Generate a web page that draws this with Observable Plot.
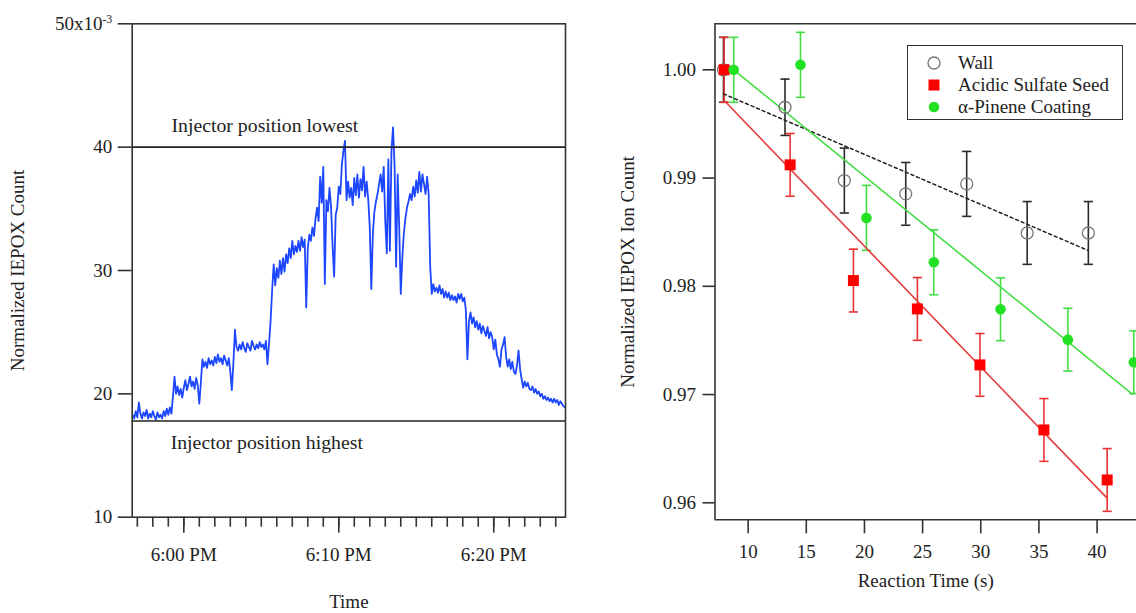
<!DOCTYPE html>
<html>
<head>
<meta charset="utf-8">
<script src="https://cdn.jsdelivr.net/npm/d3@7"></script>
<script src="https://cdn.jsdelivr.net/npm/@observablehq/plot@0.6"></script>
<style>
  html, body { margin: 0; padding: 0; background: #fff; overflow: hidden; }
  #wrap { position: relative; width: 1136px; height: 613px; font-family: "Liberation Serif", "Times New Roman", serif; }
  #left { position: absolute; left: 0; top: 0; }
  #right { position: absolute; left: 600px; top: 0; }
  #legend { position: absolute; left: 907px; top: 45px; width: 214px; height: 73px; border: 1.5px solid #333; background: #fff; }
  .item { position: absolute; left: 0; height: 22px; font-size: 19px; color: #222; line-height: 22px; white-space: nowrap; }
  .item svg { position: absolute; left: 16px; top: 1px; }
  .item span { position: absolute; left: 50px; top: 0; }
</style>
</head>
<body>
<div id="wrap">
  <div id="left"></div>
  <div id="right"></div>
  <div id="legend"></div>
</div>
<script>
// ---------------- Left panel data: IEPOX trace (units of 10^-3) ----------------
// sampled every 0.1 min starting 3.3 min before 6:00 PM
const traceStartMin = -3.3;
const traceStepMin = 0.1;
const traceValues = [
  18.3, 18.0, 18.6,
  18.1, 19.3, 18.4, 18.0, 18.5, 18.2, 18.7, 18.0, 18.4, 18.1,
  18.6, 18.2, 17.9, 18.5, 18.1, 18.3, 18.0, 18.6, 18.2, 18.8,
  18.3, 18.9, 18.4, 19.8, 21.4, 20.0, 20.6, 19.9, 20.4, 19.7,
  20.5, 21.1, 20.3, 20.8, 21.4, 20.6, 21.0, 20.4, 21.3, 20.7,
  19.2, 20.9, 22.8, 22.2, 22.6, 22.1, 22.9, 22.4, 22.7, 22.3,
  23.0, 22.5, 23.2, 22.6, 22.9, 22.4, 23.1, 22.7, 22.3, 22.9,
  21.8, 20.3, 22.5, 25.2, 23.8, 23.5, 24.0, 23.6, 24.2, 23.7,
  23.4, 24.1, 23.8, 23.5, 24.3, 23.9, 23.6, 24.0, 23.7, 24.2,
  23.8, 24.0, 23.6, 24.3, 22.4, 24.1, 25.9, 28.4, 30.5, 28.8,
  30.2, 29.4, 30.8, 29.7, 31.0, 29.9, 31.3, 30.6, 31.8, 31.0,
  32.4, 31.3, 32.0, 31.5, 32.4, 31.6, 32.7, 31.9, 32.5, 27.0,
  31.8, 32.9, 32.4, 33.5, 32.8, 34.2, 35.1, 34.0, 37.6, 35.5,
  38.4, 28.9, 35.7, 34.8, 36.7, 35.2, 32.0, 29.5, 34.5, 35.1,
  36.8, 36.2, 38.6, 39.7, 40.5, 35.7, 37.2, 35.9, 36.7, 35.3,
  37.5, 36.1, 37.8, 35.9, 37.4, 36.5, 38.4, 36.0, 37.2, 35.8,
  33.5, 28.5, 33.0, 34.8, 35.6, 36.2, 37.0, 37.8, 36.4, 38.4,
  34.0, 31.4, 39.0, 31.6, 39.7, 41.6, 38.5, 30.3, 37.8, 33.5,
  28.1, 31.0, 33.0, 34.2, 35.1, 35.6, 36.2, 35.7, 36.8, 36.0,
  37.3, 36.3, 38.0, 36.4, 37.8, 37.0, 36.2, 37.6, 36.2, 30.3,
  28.1, 28.9, 28.3, 28.6, 28.2, 28.8, 28.1, 28.5, 27.8, 28.3,
  27.8, 28.2, 27.6, 28.0, 27.6, 27.9, 27.4, 28.1, 27.7, 28.1,
  27.5, 27.8, 26.8, 22.8, 25.9, 26.6, 25.7, 26.2, 25.4, 25.9,
  25.2, 25.7, 24.9, 25.5, 25.1, 24.7, 25.4, 24.5, 25.0, 24.6,
  23.6, 24.4, 23.2, 22.8, 22.2, 23.6, 24.0, 24.6, 23.0, 22.2,
  22.8, 22.0, 22.6, 21.8, 21.6, 22.3, 23.5, 22.0, 21.2, 20.5,
  21.0, 20.6, 20.9, 20.4, 20.3, 20.6, 20.1, 20.4, 20.0, 20.2,
  19.8, 20.0, 19.6, 19.8, 19.5, 19.7, 19.4, 19.6, 19.3, 19.6,
  19.3, 19.5, 19.1, 19.4, 19.2, 19.0, 18.9
];
const injectorLevels = [40, 17.8];
const injectorLabels = ["Injector position lowest", "Injector position highest"];
const injectorLabelMin = [-0.8, -0.85];
const injectorLabelVal = [41.75, 16.05];
const leftYTicks = [10, 20, 30, 40, 50];
const leftMajorTickMin = [0, 10, 20];           // 6:00 PM, 6:10 PM, 6:20 PM
const leftMinorTickMin = [-3,-2,-1,0,1,2,3,4,5,6,7,8,9,10,11,12,13,14,15,16,17,18,19,20,21,22,23,24];
const leftXDomainMin = [-3.33, 24.63];

// ---------------- Right panel data ----------------
const seriesNames = ["Wall", "Acidic Sulfate Seed", "\u03b1-Pinene Coating"];
const wallTime = [7.88, 13.17, 18.27, 23.55, 28.79, 33.99, 39.25];
const wallVal  = [1.0000, 0.99654, 0.98977, 0.98854, 0.98946, 0.98493, 0.98493];
const wallErr  = [0.0030, 0.0026, 0.0030, 0.0029, 0.0030, 0.0029, 0.0029];
const seedTime = [7.94, 13.61, 19.05, 24.55, 29.93, 35.43, 40.87];
const seedVal  = [1.0000, 0.99122, 0.98053, 0.97791, 0.97274, 0.96673, 0.96211];
const seedErr  = [0.0030, 0.0029, 0.0029, 0.0029, 0.0029, 0.0029, 0.0029];
const pineneTime = [8.76, 14.50, 20.17, 25.96, 31.70, 37.49, 43.16];
const pineneVal  = [1.0000, 1.00046, 0.98632, 0.98222, 0.97788, 0.97507, 0.97298];
const pineneErr  = [0.0030, 0.0030, 0.0030, 0.0030, 0.0029, 0.0029, 0.0029];
const wallFitTime = [7.88, 39.25];   const wallFitVal = [0.99778, 0.98330];
const seedFitTime = [7.94, 40.80];   const seedFitVal = [0.99716, 0.96050];
const pineneFitTime = [8.76, 43.0];  const pineneFitVal = [1.0000, 0.97006];
const rightXTicks = [10, 15, 20, 25, 30, 35, 40];
const rightYTicks = [0.96, 0.97, 0.98, 0.99, 1.00];
const rightXDomain = [7.15, 43.39];
const rightYDomain = [0.95843, 1.00425];

// ---------------- helpers ----------------
const base = new Date(2013, 0, 1, 18, 0, 0).getTime();
const toDate = m => new Date(base + Math.round(m * 60000));
const trace = traceValues.map((v, i) => ({t: toDate(traceStartMin + i * traceStepMin), v}));
const fmtTime = d3.timeFormat("%-I:%M %p");
const font = {fontFamily: "'Liberation Serif', 'Times New Roman', serif", fontSize: "19px", color: "#222", background: "#fff", overflow: "visible"};
const ink = "#333";

const left = Plot.plot({
  width: 600, height: 613,
  marginLeft: 131.7, marginRight: 35, marginTop: 23.3, marginBottom: 96.3,
  style: font,
  x: {type: "time", domain: leftXDomainMin.map(toDate)},
  y: {domain: [10, 50]},
  marks: [
    Plot.line(trace, {x: "t", y: "v", stroke: "#1d46ff", strokeWidth: 1.8, clip: true}),
    Plot.ruleY(injectorLevels, {stroke: "#222", strokeWidth: 1.6}),
    Plot.text(injectorLabels, {x: (d, i) => toDate(injectorLabelMin[i]), y: (d, i) => injectorLabelVal[i], text: d => d, textAnchor: "start", fill: "#222", fontSize: 19.8}),
    Plot.frame({stroke: ink, strokeWidth: 1.6}),
    Plot.axisY({ticks: leftYTicks, tickSize: 14, tickPadding: 6, strokeWidth: 1.6, stroke: ink,
      tickFormat: d => d === 50 ? "50x10^" : String(d),
      label: "Normalized IEPOX Count", labelAnchor: "center", labelArrow: "none", labelOffset: 122}),
    Plot.axisX({ticks: leftMinorTickMin.map(toDate), tickSize: 10, strokeWidth: 1.6, stroke: ink, tickFormat: () => "", label: null}),
    Plot.axisX({ticks: leftMajorTickMin.map(toDate), tickSize: 16, tickPadding: 14, strokeWidth: 1.6, stroke: ink,
      tickFormat: fmtTime, label: "Time", labelAnchor: "center", labelArrow: "none", labelOffset: 91})
  ]
});
// superscript for the 10^-3 multiplier
left.querySelectorAll("text").forEach(t => {
  if (t.textContent === "50x10^") {
    t.textContent = "50x10";
    const ts = document.createElementNS("http://www.w3.org/2000/svg", "tspan");
    ts.setAttribute("dy", "-0.6em");
    ts.setAttribute("font-size", "0.62em");
    ts.textContent = "-3";
    t.appendChild(ts);
  }
});
document.getElementById("left").appendChild(left);

// right panel
function errRows(ts, vs, es) { return ts.map((t, i) => ({t, v: vs[i], lo: vs[i] - es[i], hi: vs[i] + es[i]})); }
const wall = errRows(wallTime, wallVal, wallErr);
const seed = errRows(seedTime, seedVal, seedErr);
const pinene = errRows(pineneTime, pineneVal, pineneErr);
const fit = (ts, vs) => ts.map((t, i) => ({t, v: vs[i]}));
const cap = {draw(ctx, size) { const w = Math.sqrt(size / Math.PI); ctx.moveTo(-w, 0); ctx.lineTo(w, 0); }};
const colWall = "#2a2a2a", colSeed = "#ff0000", colSeedLine = "#e23c3c", colPin = "#22e022", colPinLine = "#44dd44";

function errMarks(rows, color) {
  return [
    Plot.ruleX(rows, {x: "t", y1: "lo", y2: "hi", stroke: color, strokeWidth: 1.6}),
    Plot.dot(rows, {x: "t", y: "lo", symbol: cap, r: 4.6, stroke: color, fill: "none", strokeWidth: 1.6}),
    Plot.dot(rows, {x: "t", y: "hi", symbol: cap, r: 4.6, stroke: color, fill: "none", strokeWidth: 1.6})
  ];
}

const right = Plot.plot({
  width: 536, height: 613,
  marginLeft: 114.5, marginRight: 0, marginTop: 23.3, marginBottom: 93.7,
  style: font,
  x: {domain: rightXDomain},
  y: {domain: rightYDomain},
  marks: [
    Plot.ruleY([rightYDomain[1]], {stroke: ink, strokeWidth: 1.6}),
    Plot.ruleY([rightYDomain[0]], {stroke: ink, strokeWidth: 1.6}),
    Plot.ruleX([rightXDomain[0]], {stroke: ink, strokeWidth: 1.6}),
    ...errMarks(wall, colWall),
    ...errMarks(seed, "#e83232"),
    ...errMarks(pinene, colPinLine),
    Plot.line(fit(wallFitTime, wallFitVal), {x: "t", y: "v", stroke: "#222", strokeWidth: 1.5, strokeDasharray: "3,3"}),
    Plot.line(fit(seedFitTime, seedFitVal), {x: "t", y: "v", stroke: colSeedLine, strokeWidth: 1.6}),
    Plot.line(fit(pineneFitTime, pineneFitVal), {x: "t", y: "v", stroke: colPinLine, strokeWidth: 1.6}),
    Plot.dot(wall, {x: "t", y: "v", r: 6, stroke: "#777", fill: "none", strokeWidth: 1.3}),
    Plot.dot(seed, {x: "t", y: "v", symbol: "square", r: 6.2, fill: colSeed, stroke: "none"}),
    Plot.dot(pinene, {x: "t", y: "v", r: 5.3, fill: colPin, stroke: "none"}),
    Plot.axisY({ticks: rightYTicks, tickFormat: d3.format(".2f"), tickSize: 12, tickPadding: 7, strokeWidth: 1.6, stroke: ink,
      label: "Normalized IEPOX Ion Count", labelAnchor: "center", labelArrow: "none", labelOffset: 95}),
    Plot.axisX({ticks: rightXTicks, tickSize: 14, tickPadding: 11, strokeWidth: 1.6, stroke: ink,
      label: "Reaction Time (s)", labelAnchor: "center", labelArrow: "none", labelOffset: 67})
  ]
});
document.getElementById("right").appendChild(right);

// legend
const legendSymbols = [
  '<svg width="20" height="20"><circle cx="10" cy="10" r="6" fill="none" stroke="#777" stroke-width="1.3"/></svg>',
  '<svg width="20" height="20"><rect x="4.5" y="4.5" width="11" height="11" fill="#ff0000"/></svg>',
  '<svg width="20" height="20"><circle cx="10" cy="10" r="5.3" fill="#22e022"/></svg>'
];
const legend = document.getElementById("legend");
seriesNames.forEach((name, i) => {
  const div = document.createElement("div");
  div.className = "item";
  div.style.top = (6 + i * 22) + "px";
  div.innerHTML = legendSymbols[i] + "<span></span>";
  div.querySelector("span").textContent = name;
  legend.appendChild(div);
});
</script>
</body>
</html>
